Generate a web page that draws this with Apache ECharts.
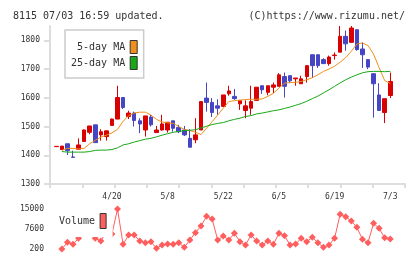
<!DOCTYPE html>
<html>
<head>
<meta charset="utf-8">
<script src="https://cdn.jsdelivr.net/npm/echarts@6/dist/echarts.min.js"></script>
<style>
  html, body { margin: 0; padding: 0; background: #fff; }
  #chart { width: 420px; height: 259px; }
</style>
</head>
<body>
<div id="chart"></div>
<script>
// daily prices, index 0 = oldest day (7/3 is the last one)
const opens = [1430, 1420, 1440, 1394, 1421, 1448, 1480, 1506, 1471, 1465,
  1504, 1526, 1601, 1535, 1547, 1520, 1488, 1533, 1479, 1488,
  1488, 1520, 1497, 1488, 1459, 1454, 1488, 1599, 1584, 1572,
  1570, 1614, 1605, 1579, 1556, 1564, 1591, 1642, 1619, 1637,
  1640, 1674, 1677, 1666, 1649, 1674, 1750, 1750, 1733, 1719,
  1747, 1759, 1814, 1793, 1837, 1770, 1733, 1684, 1610, 1549,
  1608];
const closes = [1431, 1432, 1416, 1393, 1436, 1488, 1502, 1444, 1482, 1485,
  1526, 1601, 1566, 1547, 1521, 1509, 1537, 1506, 1488, 1509,
  1515, 1494, 1482, 1471, 1428, 1471, 1587, 1584, 1549, 1564,
  1610, 1624, 1597, 1590, 1572, 1587, 1637, 1628, 1642, 1645,
  1680, 1640, 1659, 1669, 1666, 1712, 1712, 1712, 1719, 1742,
  1749, 1814, 1788, 1843, 1768, 1750, 1707, 1649, 1556, 1597,
  1657];
const lows = [1430, 1420, 1401, 1393, 1421, 1448, 1473, 1444, 1451, 1451,
  1504, 1526, 1561, 1526, 1500, 1477, 1465, 1500, 1479, 1486,
  1479, 1482, 1477, 1467, 1428, 1442, 1488, 1552, 1533, 1541,
  1570, 1607, 1593, 1558, 1529, 1541, 1591, 1614, 1609, 1616,
  1640, 1601, 1651, 1642, 1649, 1653, 1669, 1704, 1719, 1712,
  1733, 1759, 1764, 1793, 1764, 1704, 1700, 1531, 1556, 1512,
  1599];
const highs = [1431, 1432, 1440, 1416, 1459, 1490, 1502, 1506, 1491, 1485,
  1528, 1642, 1601, 1555, 1552, 1529, 1537, 1541, 1502, 1541,
  1515, 1520, 1506, 1502, 1491, 1529, 1587, 1653, 1599, 1595,
  1610, 1642, 1631, 1593, 1591, 1642, 1637, 1642, 1642, 1653,
  1686, 1688, 1677, 1669, 1677, 1712, 1750, 1750, 1738, 1747,
  1758, 1850, 1834, 1850, 1837, 1793, 1733, 1684, 1651, 1597,
  1688];

// moving averages as drawn (they start on the second day)
const ma5 = [null, 1417, 1424, 1424, 1422, 1424, 1440, 1452, 1463, 1470,
  1478, 1490, 1518, 1538, 1547, 1550, 1550, 1540, 1525, 1516,
  1513, 1511, 1500, 1490, 1486, 1480, 1472, 1494, 1517, 1540,
  1564, 1587, 1590, 1592, 1594, 1595, 1595, 1596, 1605, 1616,
  1634, 1651, 1653, 1654, 1657, 1663, 1670, 1680, 1692, 1700,
  1710, 1724, 1740, 1762, 1787, 1791, 1782, 1752, 1705, 1660,
  1650];
const ma25 = [null, 1413, 1411, 1411, 1411, 1411, 1413, 1417, 1418, 1418,
  1420, 1426, 1436, 1440, 1446, 1451, 1456, 1459, 1464, 1470,
  1475, 1480, 1483, 1486, 1487, 1489, 1495, 1501, 1507, 1511,
  1514, 1520, 1525, 1529, 1535, 1538, 1544, 1547, 1551, 1555,
  1558, 1563, 1568, 1574, 1580, 1588, 1597, 1606, 1617, 1628,
  1640, 1652, 1663, 1672, 1680, 1687, 1691, 1692, 1692, 1691,
  1692];

const volume = [null, 200, 2680, 1940, 4160, 7000, 6000, 4160, 3160, 6500,
  5750, 15000, 1940, 5380, 5380, 3160, 2530, 2900, 460, 1680,
  2050, 1940, 2530, 830, 3530, 6230, 8710, 12300, 11300, 3530,
  5010, 3530, 6000, 2900, 1680, 5380, 3160, 1680, 3160, 1940,
  6000, 5120, 1680, 2050, 4160, 2900, 4530, 2530, 830, 1680,
  4160, 13040, 12150, 10560, 8230, 3790, 2530, 9710, 7860, 4380,
  3900];

// date labels under the chart and the day they belong to
const labelIdx = [10, 20, 30, 40, 50, 60];
const labelText = ['4/20', '5/8', '5/22', '6/5', '6/19', '7/3'];
const priceTicks = [1300, 1400, 1500, 1600, 1700, 1800];

const FONT = 'DejaVu Sans Mono';
const XMIN = -1.13, XMAX = 62.65;
const UP = '#d80000', DOWN = '#4646c4';
const ORANGE = '#f0901c', GREEN = '#18a818', VOL = '#ff5e5e';
const AXIS = { color: '#dddddd', width: 2 };

const candles = opens.map((o, i) => [i, o, closes[i], lows[i], highs[i]]);
const toPairs = arr => arr.map((v, i) => [i, v]).filter(p => p[1] != null);
const plain = v => String(v);

const chart = echarts.init(document.getElementById('chart'));

const option = {
  animation: false,
  backgroundColor: '#fff',
  title: [
    {
      text: '8115 07/03 16:59 updated.',
      left: 8, top: 6,
      textStyle: { fontFamily: FONT, fontSize: 10, fontWeight: 'normal', color: '#333' }
    },
    {
      text: '(C)https://www.rizumu.net/',
      right: 10, top: 6,
      textStyle: { fontFamily: FONT, fontSize: 10, fontWeight: 'normal', color: '#333' }
    }
  ],
  legend: [
    {
      data: ['5-day MA', '25-day MA'],
      orient: 'vertical',
      left: 65, top: 30,
      align: 'right',
      icon: 'rect',
      itemWidth: 7, itemHeight: 13, itemGap: 2,
      padding: [10, 6, 8, 6],
      borderColor: '#cccccc', borderWidth: 1.5,
      backgroundColor: '#fff',
      selectedMode: false,
      formatter: name => name.padStart(9),
      itemStyle: { borderColor: '#333', borderWidth: 1 },
      textStyle: { fontFamily: FONT, fontSize: 10, color: '#333' }
    },
    {
      data: ['Volume'],
      left: 56, top: 206,
      align: 'right',
      icon: 'rect',
      itemWidth: 6, itemHeight: 15,
      padding: [7, 6, 8, 3],
      backgroundColor: '#fff',
      selectedMode: false,
      itemStyle: { borderColor: '#333', borderWidth: 1 },
      textStyle: { fontFamily: FONT, fontSize: 10, color: '#333' }
    }
  ],
  grid: [
    { left: 50, top: 26, width: 355, height: 158 },
    { left: 50, top: 209, width: 355, height: 40 }
  ],
  xAxis: [
    {
      type: 'value', gridIndex: 0, min: XMIN, max: XMAX, position: 'bottom',
      axisLine: { show: false, onZero: false },
      axisTick: { show: false },
      splitLine: { show: false },
      axisLabel: {
        customValues: labelIdx,
        formatter: v => labelText[labelIdx.indexOf(v)],
        margin: 9, fontFamily: FONT, fontSize: 8, color: '#333'
      }
    },
    {
      // plain tick ruler along the bottom edge
      type: 'value', gridIndex: 0, min: 0, max: 11, interval: 1, position: 'bottom',
      axisLine: { show: true, onZero: false, lineStyle: AXIS },
      axisTick: { show: true, length: 4, lineStyle: AXIS },
      axisLabel: { show: false },
      splitLine: { show: false }
    },
    {
      type: 'value', gridIndex: 1, min: XMIN, max: XMAX, show: false,
      axisLine: { onZero: false }
    }
  ],
  yAxis: [
    {
      type: 'value', gridIndex: 0, min: 1300, max: 1850,
      axisLine: { show: true, onZero: false, lineStyle: AXIS },
      axisTick: { show: true, length: 6, customValues: priceTicks, lineStyle: AXIS },
      splitLine: { show: false },
      axisLabel: {
        customValues: priceTicks,
        formatter: plain,
        margin: 10, fontFamily: FONT, fontSize: 8, color: '#333'
      }
    },
    {
      type: 'value', gridIndex: 1, min: 200, max: 15000, interval: 7400,
      axisLine: { show: false, onZero: false },
      axisTick: { show: false },
      splitLine: { show: false },
      axisLabel: { formatter: plain, margin: 6, fontFamily: FONT, fontSize: 8, color: '#333' }
    }
  ],
  series: [
    {
      name: 'price',
      type: 'candlestick',
      xAxisIndex: 0, yAxisIndex: 0,
      data: candles,
      barWidth: 4,
      itemStyle: {
        color: UP, color0: DOWN,
        borderColor: UP, borderColor0: DOWN,
        borderWidth: 1
      }
    },
    {
      name: '5-day MA',
      type: 'line',
      xAxisIndex: 0, yAxisIndex: 0,
      data: toPairs(ma5),
      showSymbol: false,
      itemStyle: { color: ORANGE },
      lineStyle: { color: ORANGE, width: 1 }
    },
    {
      name: '25-day MA',
      type: 'line',
      xAxisIndex: 0, yAxisIndex: 0,
      data: toPairs(ma25),
      showSymbol: false,
      itemStyle: { color: GREEN },
      lineStyle: { color: GREEN, width: 1 }
    },
    {
      name: 'Volume',
      type: 'line',
      xAxisIndex: 2, yAxisIndex: 1,
      data: toPairs(volume),
      symbol: 'diamond',
      symbolSize: 7,
      itemStyle: { color: VOL },
      lineStyle: { color: VOL, width: 1 }
    }
  ]
};

chart.setOption(option);
</script>
</body>
</html>
